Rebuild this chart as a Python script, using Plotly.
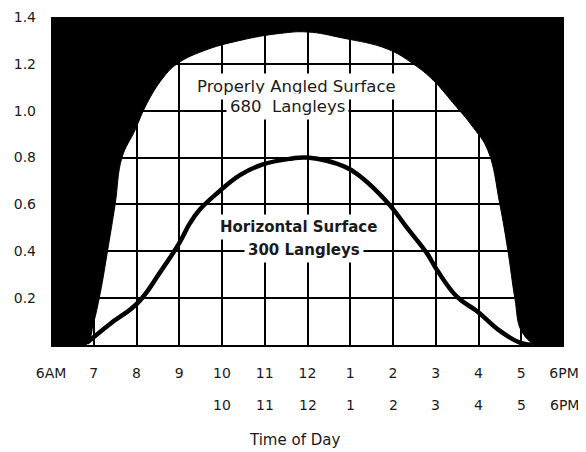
import plotly.graph_objects as go

# hour of day on a 24h clock: 6 = 6AM, 18 = 6PM
HOURS = list(range(6, 19))
ROW1_LABELS = ["6AM", "7", "8", "9", "10", "11", "12", "1", "2", "3", "4", "5", "6PM"]
ROW2_LABELS = ["", "", "", "", "10", "11", "12", "1", "2", "3", "4", "5", "6PM"]

Y_TICKS = [0.2, 0.4, 0.6, 0.8, 1.0, 1.2, 1.4]
Y_TICK_LABELS = ["0.2", "0.4", "0.6", "0.8", "1.0", "1.2", "1.4"]

ANGLED_HOURS = [6.83, 6.99, 7.15, 7.33, 7.50, 7.66, 7.96, 8.24, 8.62, 8.95, 9.56,
                10.42, 11.36, 12.0, 12.83, 13.86, 14.47, 14.94, 15.40, 15.87,
                16.22, 16.50, 16.69, 16.85, 17.0, 17.3]
ANGLED_VALUES = [0.0, 0.09, 0.22, 0.41, 0.60, 0.80, 0.915, 1.03, 1.14, 1.20, 1.255,
                 1.30, 1.33, 1.336, 1.31, 1.264, 1.20, 1.13, 1.034, 0.93,
                 0.83, 0.60, 0.40, 0.20, 0.06, 0.0]

# horizontal surface (300 Langleys)
HORIZONTAL_HOURS = [6.84, 7.38, 8.03, 8.55, 9.0, 9.25, 9.49, 9.9, 10.42, 10.94, 11.6,
                    12.0, 12.88, 13.23, 13.86, 14.33, 14.8, 15.03, 15.5, 15.96,
                    16.5, 16.97, 17.27]
HORIZONTAL_VALUES = [0.01, 0.09, 0.18, 0.31, 0.435, 0.52, 0.58, 0.65, 0.725, 0.77, 0.795,
                     0.80, 0.76, 0.72, 0.61, 0.50, 0.39, 0.32, 0.205, 0.145,
                     0.06, 0.01, 0.0]

X_RANGE = [HOURS[0], HOURS[-1]]
Y_RANGE = [0, Y_TICKS[-1]]

FONT = "DejaVu Sans, Arial, sans-serif"
INK = "#1a1a1a"

fig = go.Figure()

# black area outside the angled-surface curve; frame corners pushed past the
# axis range so the clip box cuts them off
pad_x, pad_y = 2, 0.5
frame_x = [X_RANGE[0] - pad_x, X_RANGE[0] - pad_x, X_RANGE[1] + pad_x, X_RANGE[1] + pad_x]
frame_y = [Y_RANGE[0] - pad_y, Y_RANGE[1] + pad_y, Y_RANGE[1] + pad_y, Y_RANGE[0] - pad_y]
fig.add_trace(go.Scatter(
    x=ANGLED_HOURS[::-1] + frame_x,
    y=ANGLED_VALUES[::-1] + frame_y,
    mode="lines", fill="toself", fillcolor="black",
    line=dict(color="black", width=1, shape="spline", smoothing=1.2),
    hoverinfo="skip", showlegend=False,
))

fig.add_trace(go.Scatter(
    x=HORIZONTAL_HOURS, y=HORIZONTAL_VALUES, mode="lines",
    line=dict(color="black", width=4.5, shape="spline", smoothing=1.2),
    showlegend=False,
))

annotations = []
for h, lab in zip(HOURS, ROW2_LABELS):
    if lab:
        annotations.append(dict(x=h, xref="x", y=0, yref="paper", yanchor="middle",
                                yshift=-60, text=lab, showarrow=False,
                                font=dict(size=14, color=INK, family=FONT)))
annotations.append(dict(x=11.7, xref="x", y=0, yref="paper", yanchor="middle",
                        yshift=-95, text="Time of Day", showarrow=False,
                        font=dict(size=15, color=INK, family=FONT)))

for txt, x, y, bold, size in [("Properly Angled Surface", 11.75, 1.105, False, 16.5),
                              ("680  Langleys", 11.54, 1.016, False, 16.5),
                              ("Horizontal Surface", 11.78, 0.504, True, 15),
                              ("300 Langleys", 11.92, 0.405, True, 15)]:
    annotations.append(dict(
        x=x, y=y, xref="x", yref="y", showarrow=False,
        text=f"<b>{txt}</b>" if bold else txt,
        bgcolor="white", borderpad=3,
        font=dict(size=size, color=INK, family=FONT),
    ))

# the page body keeps its default 8px margin, so the figure is 8px smaller
fig.update_layout(
    width=578, height=444,
    margin=dict(l=43, r=22, t=9, b=107),
    paper_bgcolor="white", plot_bgcolor="white",
    annotations=annotations,
    font=dict(family=FONT, size=14, color=INK),
)
fig.update_xaxes(
    range=X_RANGE, tickvals=HOURS, ticktext=ROW1_LABELS, automargin=False,
    showgrid=True, gridcolor="black", gridwidth=1.5,
    zeroline=False, showline=True, linecolor="black", linewidth=2,
    ticks="", ticklabelstandoff=14, tickfont=dict(size=14, color=INK),
)
fig.update_yaxes(
    range=Y_RANGE, tickvals=Y_TICKS, ticktext=Y_TICK_LABELS, automargin=False,
    showgrid=True, gridcolor="black", gridwidth=1.5,
    zeroline=False, showline=False,
    ticks="", ticklabelstandoff=14, tickfont=dict(size=14, color=INK),
)

fig.write_html("out.html")
